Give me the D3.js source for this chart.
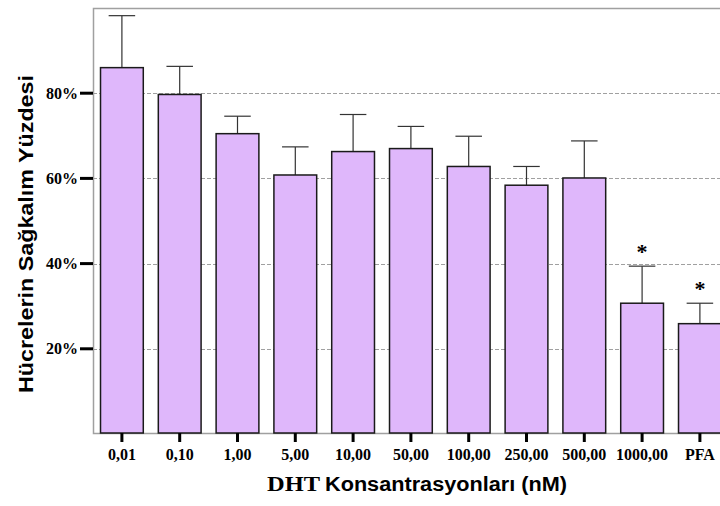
<!DOCTYPE html>
<html>
<head>
<meta charset="utf-8">
<script src="https://cdn.jsdelivr.net/npm/d3@7"></script>
<style>
  body { margin: 0; background: #fff; }
  svg { display: block; }
</style>
</head>
<body>
<div id="chart"></div>
<script>
// values
var categories = ["0,01", "0,10", "1,00", "5,00", "10,00", "50,00", "100,00", "250,00", "500,00", "1000,00", "PFA"];
var means = [86.0, 79.7, 70.5, 60.8, 66.3, 67.0, 62.8, 58.4, 60.1, 30.7, 25.9];
var errors = [12.2, 6.6, 4.1, 6.6, 8.7, 5.2, 7.1, 4.4, 8.7, 8.7, 4.8];
var marked = ["1000,00", "PFA"];
var yTicks = [20, 40, 60, 80];

var width = 720, height = 506;
var mLeft = 93, mTop = 8, mBottom = 434;

var data = categories.map(function (c, i) {
    return { cat: c, mean: means[i], err: errors[i] };
});

var svg = d3.select("#chart").append("svg")
    .attr("width", width)
    .attr("height", height);

var x = d3.scaleBand()
    .domain(categories)
    .range([mLeft, mLeft + 57.8 * categories.length])
    .paddingInner(0.26)
    .paddingOuter(0.13);

var y = d3.scaleLinear()
    .domain([0, 100])
    .range([mBottom, mTop]);

function cx(d) { return x(d) + x.bandwidth() / 2; }

// gridlines
svg.append("g").selectAll("line")
    .data(yTicks)
    .enter().append("line")
    .attr("x1", mLeft).attr("x2", width)
    .attr("y1", function (d) { return Math.round(y(d)) + 0.5; })
    .attr("y2", function (d) { return Math.round(y(d)) + 0.5; })
    .attr("stroke", "#a0a0a0")
    .attr("stroke-dasharray", "4,2");

// frame
svg.append("path")
    .attr("d", "M" + width + "," + (mTop + 0.5) + "H" + (mLeft + 0.5) + "V" + (mBottom - 0.5) + "H" + width)
    .attr("fill", "none")
    .attr("stroke", "#a0a0a0")
    .attr("stroke-width", 1.5);

// error bars (upper only)
var eb = svg.append("g").selectAll("g")
    .data(data)
    .enter().append("g");

eb.append("line")
    .attr("x1", function (d) { return cx(d.cat); })
    .attr("x2", function (d) { return cx(d.cat); })
    .attr("y1", function (d) { return y(d.mean); })
    .attr("y2", function (d) { return y(d.mean + d.err); })
    .attr("stroke", "#333")
    .attr("stroke-width", 1.2);

eb.append("line")
    .attr("x1", function (d) { return x(d.cat) + x.bandwidth() * 0.19; })
    .attr("x2", function (d) { return x(d.cat) + x.bandwidth() * 0.81; })
    .attr("y1", function (d) { return y(d.mean + d.err); })
    .attr("y2", function (d) { return y(d.mean + d.err); })
    .attr("stroke", "#333")
    .attr("stroke-width", 1.2);

// bars
svg.append("g").selectAll("rect")
    .data(data)
    .enter().append("rect")
    .attr("x", function (d) { return x(d.cat); })
    .attr("y", function (d) { return y(d.mean); })
    .attr("width", x.bandwidth())
    .attr("height", function (d) { return y(0) - y(d.mean) - 1; })
    .attr("fill", "#dfb7fb")
    .attr("stroke", "#1a1a1a")
    .attr("stroke-width", 1.5);

// asterisks
svg.append("g").selectAll("text")
    .data(data.filter(function (d) { return marked.indexOf(d.cat) >= 0; }))
    .enter().append("text")
    .attr("x", function (d) { return cx(d.cat); })
    .attr("y", function (d) { return y(d.mean + d.err) - 7; })
    .attr("text-anchor", "middle")
    .attr("font-family", "Liberation Serif, serif")
    .attr("font-weight", "bold")
    .attr("font-size", 22)
    .text("*");

// y ticks + labels
var yt = svg.append("g").selectAll("g")
    .data(yTicks)
    .enter().append("g");
yt.append("line")
    .attr("x1", 80).attr("x2", mLeft)
    .attr("y1", function (d) { return y(d); })
    .attr("y2", function (d) { return y(d); })
    .attr("stroke", "#000")
    .attr("stroke-width", 3);
yt.append("text")
    .attr("x", 78)
    .attr("y", function (d) { return y(d) + 5.5; })
    .attr("text-anchor", "end")
    .attr("font-family", "Liberation Serif, serif")
    .attr("font-weight", "bold")
    .attr("font-size", 16)
    .text(function (d) { return d + "%"; });

// x ticks + labels
var xt = svg.append("g").selectAll("g")
    .data(categories)
    .enter().append("g");
xt.append("line")
    .attr("x1", cx).attr("x2", cx)
    .attr("y1", mBottom - 1).attr("y2", mBottom + 8)
    .attr("stroke", "#000")
    .attr("stroke-width", 3);
xt.append("text")
    .attr("x", cx)
    .attr("y", 460)
    .attr("text-anchor", "middle")
    .attr("font-family", "Liberation Serif, serif")
    .attr("font-weight", "bold")
    .attr("font-size", 16)
    .text(function (d) { return d; });

// axis titles
svg.append("text")
    .attr("x", 267)
    .attr("y", 491)
    .attr("font-family", "Liberation Serif, serif")
    .attr("font-weight", "bold")
    .attr("font-size", 21)
    .attr("textLength", 53)
    .attr("lengthAdjust", "spacingAndGlyphs")
    .text("DHT");
svg.append("text")
    .attr("x", 325)
    .attr("y", 491)
    .attr("font-family", "Liberation Sans, Arial, sans-serif")
    .attr("font-weight", "bold")
    .attr("font-size", 20)
    .attr("textLength", 242)
    .attr("lengthAdjust", "spacingAndGlyphs")
    .text("Konsantrasyonları (nM)");

svg.append("text")
    .attr("transform", "translate(33,234) rotate(-90)")
    .attr("text-anchor", "middle")
    .attr("font-family", "Liberation Sans, Arial, sans-serif")
    .attr("font-weight", "bold")
    .attr("font-size", 21)
    .attr("textLength", 318)
    .attr("lengthAdjust", "spacingAndGlyphs")
    .text("Hücrelerin Sağkalım Yüzdesi");
</script>
</body>
</html>
